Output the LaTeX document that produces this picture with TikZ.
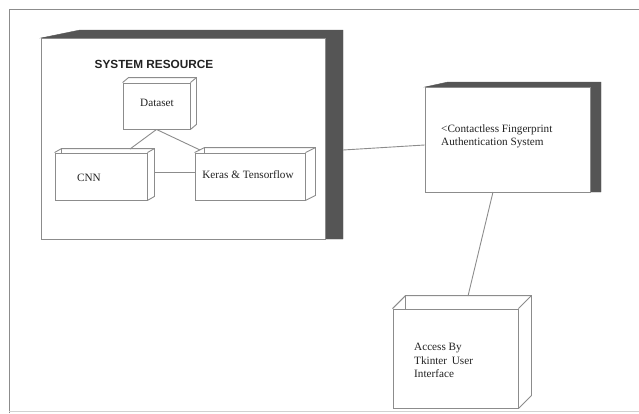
\documentclass[tikz,border=0pt]{standalone}
\usepackage{fontspec}
\setmainfont{Liberation Serif}
\newfontfamily\arialfont{Liberation Sans}
\begin{document}
\begin{tikzpicture}[x=1pt,y=-1pt,
  face/.style={draw=linegray, fill=white, line width=0.9pt, inner sep=0pt},
  edge/.style={draw=linegray, line width=0.9pt},
  shade/.style={fill=darkbar, draw=darkbar},
  lbl/.style={text=txtgray, font=\fontsize{11.2}{13.5}\selectfont, inner sep=0pt},
  lbll/.style={lbl, align=left, anchor=west}]
\definecolor{linegray}{HTML}{8C8C8C}
\definecolor{darkbar}{HTML}{555555}
\definecolor{txtgray}{HTML}{222222}
\useasboundingbox (0,0) rectangle (639,413);
% outer frame
\draw[draw=linegray, line width=1pt] (9,413) -- (9,9) -- (639,9);
\draw[draw=linegray!40, line width=1pt] (9,411) -- (639,411);

% System resource node
\fill[shade] (41,38) -- (80,30) -- (343,30) -- (343,239) -- (325,239) -- (325,38) -- cycle;
\node[face, minimum width=284pt, minimum height=201pt] (sys) at (183,138.5) {};
\node[inner sep=0pt, text=txtgray, font=\arialfont\bfseries\fontsize{11.8}{13}\selectfont] (systitle) at (154,64) {SYSTEM RESOURCE};
\coordinate (sysR) at (343,150);

% Dataset
\node[face, minimum width=67pt, minimum height=46pt] (ds) at (156.5,106) {};
\draw[edge] (ds.north west) -- ++(6,-5) -- ([shift={(6,-5)}]ds.north east) -- ([shift={(6,-5)}]ds.south east) -- (ds.south east);
\draw[edge] (ds.north east) -- ++(6,-5);
\node[lbl] (dsl) at (157,103) {Dataset};

% CNN
\node[face, minimum width=92pt, minimum height=47pt] (cnn) at (101,176.5) {};
\draw[edge] (cnn.north west) -- ++(7,-4) -- ([shift={(7,-4)}]cnn.north east) -- ([shift={(7,-4)}]cnn.south east) -- (cnn.south east);
\draw[edge] (cnn.north east) -- ++(7,-4);
\draw[edge] ([shift={(7,-4)}]cnn.north west) -- ++(0,4);
\node[lbl] (cnnl) at (89,178) {CNN};

% Keras
\node[face, minimum width=110pt, minimum height=47pt] (ker) at (250,176.5) {};
\draw[edge] (ker.north west) -- ++(10,-5) -- ([shift={(10,-5)}]ker.north east) -- ([shift={(10,-5)}]ker.south east) -- (ker.south east);
\draw[edge] (ker.north east) -- ++(10,-5);
\draw[edge] ([shift={(10,-5)}]ker.north west) -- ++(0,5);
\node[lbl] (kerl) at (248,175) {Keras \& Tensorflow};

% internal connectors
\coordinate (cnnTop) at (130,149);
\coordinate (kerTop) at (200,150);
\coordinate (cnnR) at (154,172);
\coordinate (kerL) at (195,172);
\draw[edge] (ds.south) -- (cnnTop);
\draw[edge] (ds.south) -- (kerTop);
\draw[edge] (cnnR) -- (kerL);

% Contactless system node
\fill[shade] (425,87) -- (448,82) -- (601,82) -- (601,192) -- (590,192) -- (590,87) -- cycle;
\node[face, minimum width=165pt, minimum height=105pt] (cfa) at (507.5,139.5) {};
\node[lbll] (cfal) at (441,136.5) {<Contactless Fingerprint\\Authentication System};

% Access node
\node[face, minimum width=125pt, minimum height=99pt] (acc) at (455.5,358.5) {};
\draw[edge] (acc.north west) -- ++(13,-13) -- ([shift={(13,-13)}]acc.north east) -- ([shift={(13,-13)}]acc.south east) -- (acc.south east);
\draw[edge] (acc.north east) -- ++(13,-13);
\draw[edge] ([shift={(13,-13)}]acc.north west) -- ++(0,13);
\node[lbll] (accl) at (414,360.5) {Access By\\Tkinter\, User\\Interface};

% connectors
\coordinate (accTop) at (468,296);
\coordinate (cfaB) at (493,192);
\draw[edge] (sysR) -- (cfa.west |- 0,145);
\draw[edge] (cfaB) -- (accTop);
\end{tikzpicture}
\end{document}
